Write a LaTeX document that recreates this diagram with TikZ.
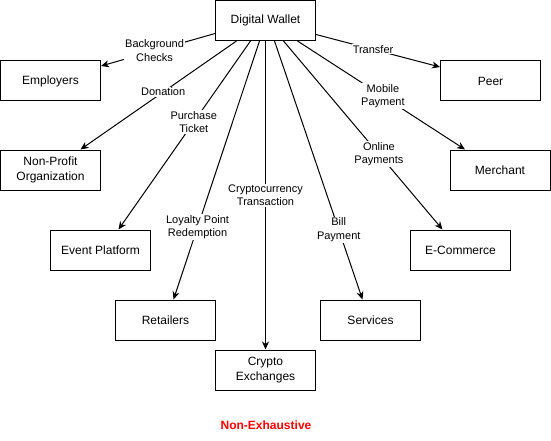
\documentclass[tikz,border=0pt]{standalone}
\usepackage{fontspec}
\setmainfont{Liberation Sans}
\usetikzlibrary{arrows.meta}
\begin{document}
\begin{tikzpicture}[x=1pt,y=-1pt,
 box/.style={draw=black, line width=1pt, minimum width=100pt, minimum height=40pt, align=center, inner sep=0pt, font=\fontsize{12}{14.5}\selectfont},
 conn/.style={draw=black, line width=1pt, -{Stealth[length=8pt,width=7pt,inset=2.5pt]}},
 lbl/.style={fill=white, inner sep=1pt, align=center, font=\fontsize{11}{13.5}\selectfont},
 note/.style={text=red, inner sep=0pt, font=\bfseries\fontsize{12}{14}\selectfont}]
\useasboundingbox (0,0) rectangle (551,441);

\node[box] (w) at (265.5,20.5) {Digital Wallet};
\node[box] (emp) at (50.5,81) {Employers};
\node[box] (np) at (50.5,170) {Non-Profit\\Organization};
\node[box] (ev) at (100.5,250) {Event Platform};
\node[box] (ret) at (165.5,320) {Retailers};
\node[box] (cx) at (265.5,370) {Crypto\\Exchanges};
\node[box] (srv) at (370.5,320) {Services};
\node[box] (ec) at (460.5,250) {E-Commerce};
\node[box] (mer) at (500,170) {Merchant};
\node[box] (peer) at (490.5,81) {Peer};

\draw[conn] ([yshift=-13pt]w.west) -- node[lbl,pos=0.53] {Background\\Checks} ([yshift=15pt]emp.east);
\draw[conn] ([xshift=-29pt]w.south) -- node[lbl,pos=0.47] {Donation} ([xshift=30pt]np.north);
\draw[conn] ([xshift=-15pt]w.south) -- node[lbl,pos=0.43] {Purchase\\Ticket} ([xshift=18pt]ev.north);
\draw[conn] ([xshift=-6pt]w.south) -- node[lbl,pos=0.72] {Loyalty Point\\Redemption} ([xshift=8pt]ret.north);
\draw[conn] (w.south) -- node[lbl,pos=0.5] {Cryptocurrency\\Transaction} (cx.north);
\draw[conn] ([xshift=9pt]w.south) -- node[lbl,pos=0.73] {Bill\\Payment} ([xshift=-8pt]srv.north);
\draw[conn] ([xshift=18pt]w.south) -- node[lbl,pos=0.6] {Online\\Payments} ([xshift=-18pt]ec.north);
\draw[conn] ([xshift=32pt]w.south) -- node[lbl,pos=0.51] {Mobile\\Payment} ([xshift=-35pt]mer.north);
\draw[conn] ([yshift=-14pt]w.east) -- node[lbl,pos=0.46] {Transfer} ([yshift=14pt]peer.west);

\node[note] (ne) at (266,425) {Non-Exhaustive};
\end{tikzpicture}
\end{document}
